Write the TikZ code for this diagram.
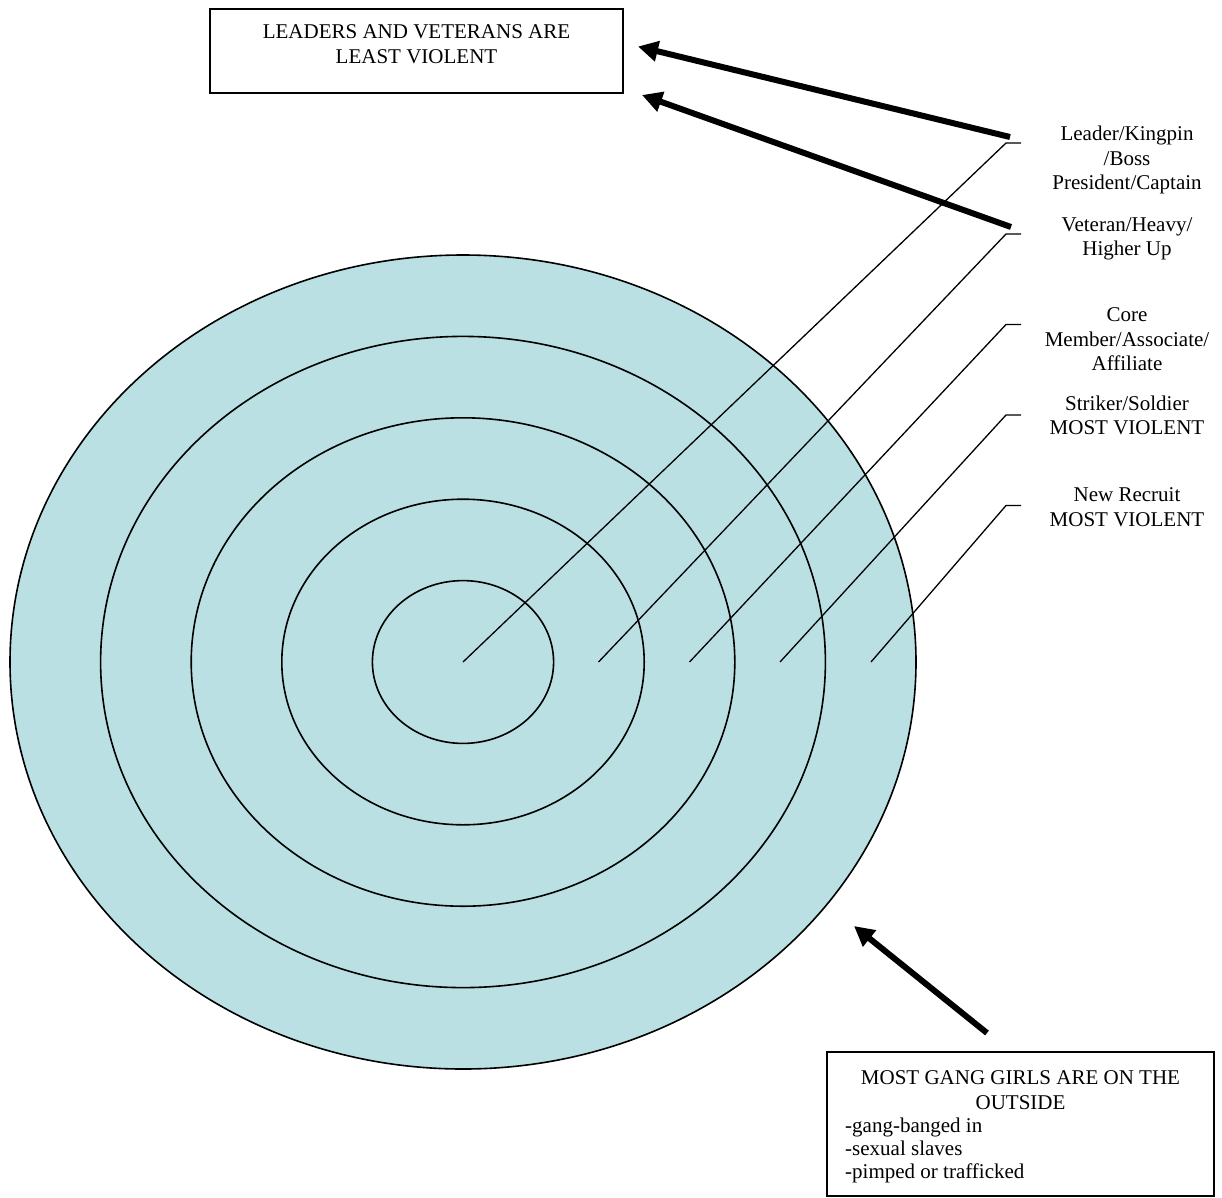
\documentclass[tikz,border=0pt]{standalone}
\usepackage{fontspec}
\setmainfont{Liberation Serif}
\usetikzlibrary{arrows.meta}

\definecolor{ringblue}{RGB}{186,224,227}

\tikzset{
  ringline/.style={draw=black, line width=1.6pt},
  leader/.style={draw=black, line width=1.3pt},
  bigarrow/.style={line width=6pt, -{Triangle[length=20pt,width=20pt]}},
  ranklabel/.style={align=center, inner sep=0pt, anchor=base},
  boxed/.style={draw=black, line width=1.5pt, inner sep=0pt},
}

\begin{document}
\begin{tikzpicture}[x=1pt,y=-1pt, font=\fontsize{21}{24.5}\selectfont]
  \useasboundingbox (0,0) rectangle (1222,1197);

  % target
  \coordinate (ctr) at (463,662);
  \fill[ringblue] (ctr) ellipse [x radius=453, y radius=407];
  \foreach \r in {1,...,5}
    \draw[ringline] (ctr) ellipse [x radius=90.6*\r, y radius=81.4*\r];

  % leader lines out to the ranks
  \foreach \n/\sx/\ky in {1/463/143, 2/598.5/234, 3/689.5/324.5, 4/780/415, 5/871/505.5} {
    \coordinate (s\n) at (\sx,662);
    \coordinate (k\n) at (1006,\ky);
    \coordinate (t\n) at (1021,\ky);
    \draw[leader] (s\n) -- (k\n) -- (t\n);
  }

  % (base = last line)
  \node[ranklabel] (lab1) at (1127,189.5) {Leader/Kingpin\\/Boss\\President/Captain};
  \node[ranklabel] (lab2) at (1127,255.5) {Veteran/Heavy/\\Higher Up};
  \node[ranklabel] (lab3) at (1127,370.5) {Core\\Member/Associate/\\Affiliate};
  \node[ranklabel] (lab4) at (1127,434.5) {Striker/Soldier\\MOST VIOLENT};
  \node[ranklabel] (lab5) at (1127,526) {New Recruit\\MOST VIOLENT};

  % top box
  \node[boxed, minimum width=413pt, minimum height=84pt] (lvbox) at (416.5,51) {};
  \node[ranklabel] (lvtext) at (416.5,63.3) {LEADERS AND VETERANS ARE\\LEAST VIOLENT};

  % bottom box
  \node[boxed, minimum width=387pt, minimum height=144pt] (girlbox) at (1020.5,1124) {};
  \node[ranklabel] (girlhead) at (1020.5,1109) {MOST GANG GIRLS ARE ON THE\\OUTSIDE};
  \node[ranklabel, align=left, anchor=base west, font=\fontsize{21}{22.8}\selectfont] (girllist)
    at (845,1178) {-gang-banged in\\-sexual slaves\\-pimped or trafficked};

  % arrows
  \coordinate (a1) at (1010,137);
  \coordinate (h1) at (638,46.5);
  \coordinate (a2) at (1011,227);
  \coordinate (h2) at (642,95);
  \coordinate (a3) at (987,1033);
  \coordinate (h3) at (854,926);
  \draw[bigarrow] (a1) -- (h1);
  \draw[bigarrow] (a2) -- (h2);
  \draw[bigarrow] (a3) -- (h3);
\end{tikzpicture}
\end{document}
